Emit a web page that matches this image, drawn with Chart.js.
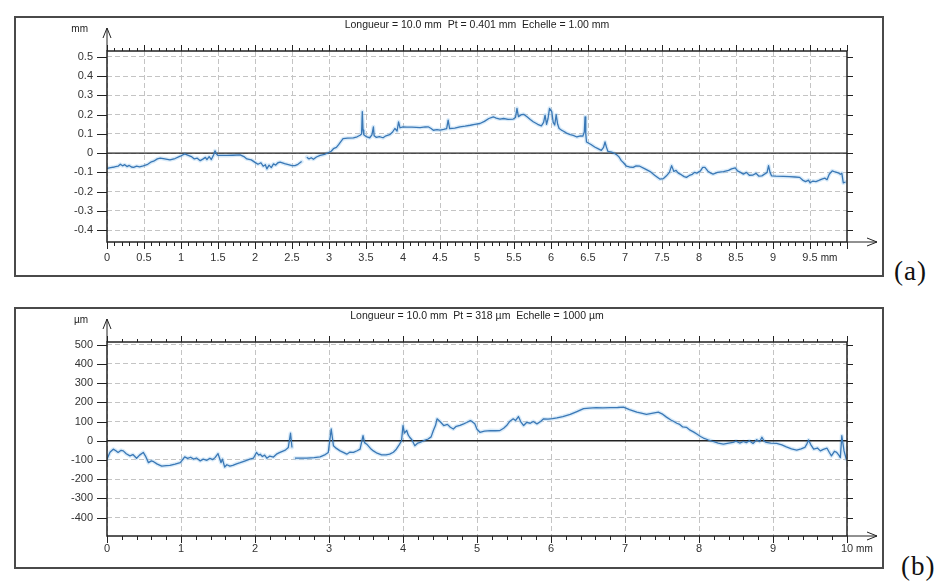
<!DOCTYPE html>
<html>
<head>
<meta charset="utf-8">
<script src="https://cdn.jsdelivr.net/npm/chart.js@4.4.0/dist/chart.umd.min.js"></script>
<style>
  body { margin: 0; background: #fff; width: 938px; height: 581px; overflow: hidden; position: relative; }
  canvas { position: absolute; left: 14px; }
  #profA { top: 16px; }
  #profB { top: 307px; }
  .tag { position: absolute; font-family: "Liberation Serif", "DejaVu Serif", serif; font-size: 27px; color: #111; letter-spacing: 1px; }
</style>
</head>
<body>
<canvas id="profA" width="870" height="261"></canvas>
<canvas id="profB" width="870" height="262"></canvas>
<div class="tag" style="left:894px; top:256px;">(a)</div>
<div class="tag" style="left:901px; top:551px;">(b)</div>
<script>
// (a) profile, position in mm, height in mm
const posA = [0,0.05,0.1,0.15,0.18,0.21,0.24,0.27,0.3,0.33,0.36,0.4,0.44,0.49,0.55,0.6,0.63,0.68,0.72,0.78,0.85,0.92,0.99,1.05,1.09,1.14,1.18,1.22,1.26,1.3,1.33,1.35,1.38,1.41,1.44,1.46,1.48,1.5,1.56,1.62,1.7,1.8,1.85,1.89,1.95,2,2.04,2.08,2.11,2.14,2.16,2.19,2.22,2.25,2.28,2.31,2.34,2.4,2.45,2.5,2.54,2.58,2.63,2.67,2.7,2.73,2.76,2.79,2.83,2.88,2.94,2.99,3.03,3.06,3.1,3.13,3.16,3.19,3.25,3.33,3.38,3.42,3.44,3.45,3.46,3.47,3.51,3.55,3.58,3.6,3.61,3.64,3.68,3.73,3.77,3.82,3.86,3.89,3.92,3.94,3.96,4,4.05,4.12,4.18,4.23,4.3,4.34,4.38,4.41,4.46,4.5,4.55,4.59,4.61,4.63,4.7,4.77,4.84,4.91,4.97,5.04,5.1,5.16,5.22,5.26,5.31,5.36,5.42,5.49,5.52,5.54,5.56,5.6,5.63,5.68,5.72,5.76,5.82,5.87,5.9,5.92,5.94,5.96,5.98,6.01,6.03,6.05,6.07,6.09,6.11,6.14,6.17,6.21,6.26,6.3,6.35,6.4,6.43,6.45,6.46,6.47,6.48,6.54,6.59,6.64,6.68,6.71,6.73,6.75,6.77,6.82,6.86,6.89,6.92,6.95,6.98,7.02,7.06,7.11,7.15,7.2,7.27,7.34,7.4,7.47,7.52,7.56,7.6,7.63,7.66,7.69,7.72,7.76,7.8,7.83,7.87,7.91,7.94,7.97,8.02,8.05,8.08,8.12,8.16,8.19,8.25,8.33,8.4,8.44,8.49,8.52,8.56,8.6,8.64,8.68,8.73,8.77,8.81,8.85,8.89,8.92,8.94,8.96,8.98,9.04,9.14,9.22,9.3,9.36,9.4,9.44,9.48,9.5,9.54,9.58,9.62,9.66,9.7,9.73,9.76,9.8,9.84,9.88,9.91,9.93,9.95,9.98];
const heightA = [-0.079,-0.075,-0.072,-0.068,-0.058,-0.066,-0.06,-0.07,-0.064,-0.072,-0.074,-0.068,-0.071,-0.066,-0.058,-0.045,-0.042,-0.03,-0.026,-0.03,-0.035,-0.028,-0.016,-0.004,-0.01,-0.018,-0.03,-0.026,-0.039,-0.03,-0.022,-0.034,-0.018,-0.033,-0.01,0.012,-0.005,-0.012,-0.012,-0.012,-0.011,-0.009,-0.018,-0.03,-0.035,-0.048,-0.058,-0.05,-0.068,-0.06,-0.082,-0.062,-0.075,-0.056,-0.062,-0.05,-0.047,-0.055,-0.06,-0.065,-0.065,-0.058,-0.044,null,-0.021,-0.03,-0.024,-0.032,-0.02,-0.012,-0.006,0.002,0.01,0.023,0.03,0.044,0.06,0.075,0.078,0.079,0.085,0.093,0.1,0.216,0.12,0.096,0.084,0.08,0.095,0.137,0.09,0.082,0.086,0.08,0.09,0.096,0.11,0.128,0.115,0.163,0.132,0.137,0.135,0.135,0.134,0.133,0.136,0.137,0.128,0.119,0.122,0.12,0.123,0.128,0.172,0.128,0.13,0.137,0.14,0.145,0.15,0.154,0.165,0.18,0.189,0.182,0.177,0.18,0.176,0.177,0.185,0.233,0.19,0.2,0.202,0.188,0.175,0.163,0.15,0.142,0.16,0.198,0.15,0.18,0.233,0.216,0.16,0.146,0.2,0.15,0.128,0.12,0.114,0.104,0.096,0.092,0.084,0.09,0.088,0.11,0.189,0.1,0.058,0.045,0.032,0.022,0.014,0.03,0.058,0.03,0.009,0.005,-0.002,-0.009,-0.02,-0.039,-0.05,-0.068,-0.072,-0.074,-0.066,-0.068,-0.082,-0.096,-0.115,-0.135,-0.132,-0.118,-0.1,-0.065,-0.095,-0.09,-0.104,-0.112,-0.122,-0.126,-0.116,-0.11,-0.1,-0.104,-0.092,-0.074,-0.074,-0.094,-0.104,-0.109,-0.1,-0.096,-0.09,-0.082,-0.077,-0.092,-0.1,-0.109,-0.1,-0.115,-0.114,-0.105,-0.12,-0.118,-0.108,-0.1,-0.065,-0.1,-0.118,-0.12,-0.121,-0.122,-0.124,-0.126,-0.14,-0.148,-0.14,-0.154,-0.145,-0.148,-0.142,-0.135,-0.13,-0.138,-0.11,-0.092,-0.098,-0.102,-0.11,-0.104,-0.155,-0.15];
const xTicksA = [0,0.5,1,1.5,2,2.5,3,3.5,4,4.5,5,5.5,6,6.5,7,7.5,8,8.5,9,9.5];
const yTicksA = [0.5,0.4,0.3,0.2,0.1,0,-0.1,-0.2,-0.3,-0.4];

// (b) profile, position in mm, height in µm
const posB = [0,0.04,0.085,0.12,0.15,0.19,0.22,0.26,0.31,0.35,0.4,0.44,0.49,0.52,0.56,0.6,0.63,0.68,0.74,0.8,0.85,0.92,0.99,1.02,1.05,1.09,1.13,1.17,1.21,1.26,1.3,1.35,1.39,1.43,1.46,1.5,1.52,1.54,1.56,1.59,1.62,1.66,1.7,1.75,1.8,1.86,1.93,1.98,2.02,2.05,2.07,2.1,2.13,2.16,2.2,2.25,2.29,2.33,2.37,2.41,2.45,2.48,2.5,2.52,2.54,2.62,2.7,2.8,2.88,2.95,2.99,3.03,3.06,3.1,3.15,3.2,3.24,3.28,3.33,3.38,3.42,3.46,3.48,3.51,3.56,3.6,3.65,3.71,3.77,3.82,3.87,3.91,3.95,3.98,4,4.02,4.05,4.07,4.09,4.12,4.16,4.2,4.23,4.28,4.34,4.38,4.41,4.44,4.46,4.5,4.55,4.6,4.64,4.68,4.72,4.77,4.82,4.86,4.91,4.94,4.97,5,5.04,5.1,5.18,5.25,5.31,5.36,5.4,5.44,5.49,5.52,5.56,5.59,5.63,5.67,5.72,5.76,5.81,5.86,5.9,5.96,6.02,6.08,6.16,6.26,6.35,6.44,6.52,6.61,6.7,6.8,6.9,6.98,7.06,7.16,7.22,7.29,7.36,7.45,7.5,7.56,7.62,7.66,7.7,7.74,7.78,7.83,7.88,7.93,7.97,8.02,8.06,8.12,8.19,8.26,8.33,8.4,8.46,8.5,8.55,8.6,8.64,8.68,8.73,8.78,8.82,8.85,8.88,8.91,8.97,9.05,9.12,9.18,9.25,9.32,9.38,9.43,9.46,9.48,9.51,9.55,9.6,9.64,9.68,9.73,9.76,9.79,9.83,9.86,9.89,9.91,9.93,9.96,9.99];
const heightB = [-96,-60,-44,-52,-61,-50,-53,-68,-79,-72,-91,-75,-61,-80,-114,-105,-109,-122,-132,-130,-128,-122,-114,-100,-84,-92,-86,-96,-90,-105,-96,-102,-92,-98,-88,-67,-90,-114,-96,-137,-125,-132,-128,-120,-114,-106,-96,-90,-61,-75,-70,-82,-75,-91,-80,-85,-70,-62,-55,-49,-35,39,-35,null,-91,-91,-91,-88,-84,-72,-61,61,-26,-40,-53,-62,-70,-60,-61,-52,-44,26,-10,-18,-40,-53,-65,-74,-74,-70,-60,-44,-20,0,79,40,53,30,18,5,-26,-12,-9,0,9,20,53,80,114,100,79,85,70,61,75,80,88,95,105,98,88,60,44,50,53,52,53,65,79,100,114,105,126,100,79,95,91,100,88,100,114,112,115,119,126,137,152,167,170,172,171,172,173,175,162,149,144,137,142,149,140,123,108,100,91,85,72,70,55,45,35,22,14,5,-4,-12,-18,-12,-9,-2,-12,-4,-10,0,-14,5,-5,18,-2,-9,-12,-14,-22,-32,-42,-49,-42,-35,-15,4,-20,-44,-38,-53,-45,-39,-60,-79,-55,-61,-75,-88,26,-53,-96];
const xTicksB = [0,1,2,3,4,5,6,7,8,9,10];
const yTicksB = [500,400,300,200,100,0,-100,-200,-300,-400];

const FONT = '"Liberation Sans", Arial, sans-serif';

function line(ctx, x1, y1, x2, y2) {
  ctx.beginPath();
  ctx.moveTo(x1, y1);
  ctx.lineTo(x2, y2);
  ctx.stroke();
}

// frame, axis arrows, minor ticks, title and units
const profileFrame = {
  id: 'profileFrame',
  afterDraw(chart, args, o) {
    const ctx = chart.ctx;
    const a = chart.chartArea;
    const x = chart.scales.x, y = chart.scales.y;
    ctx.save();
    ctx.strokeStyle = '#4a4a4a';
    ctx.lineWidth = 2;
    ctx.strokeRect(1, 1, chart.width - 2, chart.height - 2);

    ctx.strokeStyle = '#222';
    ctx.lineWidth = 1.5;
    ctx.strokeRect(a.left, a.top, a.right - a.left, a.bottom - a.top);

    ctx.lineWidth = 1;
    y.ticks.forEach(t => {
      const py = Math.round(y.getPixelForValue(t.value)) + 0.5;
      line(ctx, a.left - 10, py, a.left, py);
      line(ctx, a.right, py, a.right + 6, py);
    });
    const n = Math.round((x.max - x.min) / o.minorStep);
    for (let i = 0; i <= n; i++) {
      const px = Math.round(x.getPixelForValue(x.min + i * o.minorStep)) + 0.5;
      const major = i % o.majorEvery === 0;
      line(ctx, px, a.top, px, a.top - (major ? 6 : 3));
      line(ctx, px, a.bottom, px, a.bottom + (major ? 7 : 4));
    }

    // y arrow
    const tipY = a.top - 23;
    line(ctx, a.left, a.top, a.left, tipY);
    ctx.beginPath();
    ctx.moveTo(a.left - 4, tipY + 10);
    ctx.lineTo(a.left, tipY);
    ctx.lineTo(a.left + 4, tipY + 10);
    ctx.stroke();
    // x arrow
    const tipX = a.right + 30;
    line(ctx, a.right, a.bottom, tipX, a.bottom);
    ctx.beginPath();
    ctx.moveTo(tipX - 10, a.bottom - 4);
    ctx.lineTo(tipX, a.bottom);
    ctx.lineTo(tipX - 10, a.bottom + 4);
    ctx.stroke();

    ctx.fillStyle = '#222';
    ctx.textBaseline = 'middle';
    ctx.font = '10.5px ' + FONT;
    ctx.textAlign = 'center';
    ctx.fillText(o.title, (a.left + a.right) / 2, 9.5);
    ctx.font = '10px ' + FONT;
    ctx.textAlign = 'right';
    ctx.fillText(o.unitY, a.left - 19, a.top - 22);

    // unit after the last x label
    const last = x.ticks[x.ticks.length - 1];
    const lpx = x.getPixelForValue(last.value);
    ctx.font = '11px ' + FONT;
    const w = ctx.measureText(String(last.label)).width;
    ctx.font = '10px ' + FONT;
    ctx.textAlign = 'left';
    ctx.fillText('mm', lpx + w / 2 + 3, a.bottom + o.labelPad + 7);
    ctx.restore();
  }
};

function makeProfile(id, pos, prof, xTicks, yTicks, yMin, yMax, xHeight, labelPad, frameOpts) {
  const pts = pos.map((p, i) => ({ x: p, y: prof[i] }));
  return new Chart(document.getElementById(id), {
    type: 'line',
    data: {
      datasets: [
        { data: pts, borderColor: '#3a78b6', borderWidth: 1.3, borderJoinStyle: 'round', pointRadius: 0, tension: 0, spanGaps: false, order: 0 },
        { data: [{ x: 0, y: 0 }, { x: 10, y: 0 }], borderColor: '#222', borderWidth: 1.3, pointRadius: 0, order: 1 },
        { data: pts, borderColor: 'rgba(160,205,240,0.4)', borderWidth: 4, borderJoinStyle: 'round', borderCapStyle: 'round', pointRadius: 0, tension: 0, spanGaps: false, order: 2 }
      ]
    },
    options: {
      responsive: false,
      animation: false,
      layout: { padding: { left: 0, top: 35, right: 37, bottom: 0 } },
      plugins: { legend: { display: false }, tooltip: { enabled: false }, profileFrame: Object.assign({ labelPad: labelPad }, frameOpts) },
      scales: {
        x: {
          type: 'linear', min: 0, max: 10,
          afterBuildTicks: s => { s.ticks = xTicks.map(v => ({ value: v })); },
          afterFit: s => { s.height = xHeight; },
          grid: { color: '#c4c4c4', lineWidth: 1, drawTicks: false },
          border: { display: false, dash: [5, 3] },
          ticks: { autoSkip: false, maxRotation: 0, padding: labelPad, color: '#333', font: { family: FONT, size: 11 }, callback: v => String(v) }
        },
        y: {
          min: yMin, max: yMax,
          afterBuildTicks: s => { s.ticks = yTicks.map(v => ({ value: v })); },
          afterFit: s => { s.width = 93; },
          grid: { color: '#c4c4c4', lineWidth: 1, drawTicks: false },
          border: { display: false, dash: [5, 3] },
          ticks: { autoSkip: false, padding: 14, color: '#333', font: { family: FONT, size: 11 }, callback: v => String(v) }
        }
      }
    },
    plugins: [profileFrame]
  });
}

makeProfile('profA', posA, heightA, xTicksA, yTicksA, -0.462, 0.531, 35, 9,
  { title: 'Longueur = 10.0 mm  Pt = 0.401 mm  Echelle = 1.00 mm', unitY: 'mm', minorStep: 0.1, majorEvery: 5 });
makeProfile('profB', posB, heightB, xTicksB, yTicksB, -496, 514, 33, 6,
  { title: 'Longueur = 10.0 mm  Pt = 318 µm  Echelle = 1000 µm', unitY: 'µm', minorStep: 0.2, majorEvery: 5 });
</script>
</body>
</html>
